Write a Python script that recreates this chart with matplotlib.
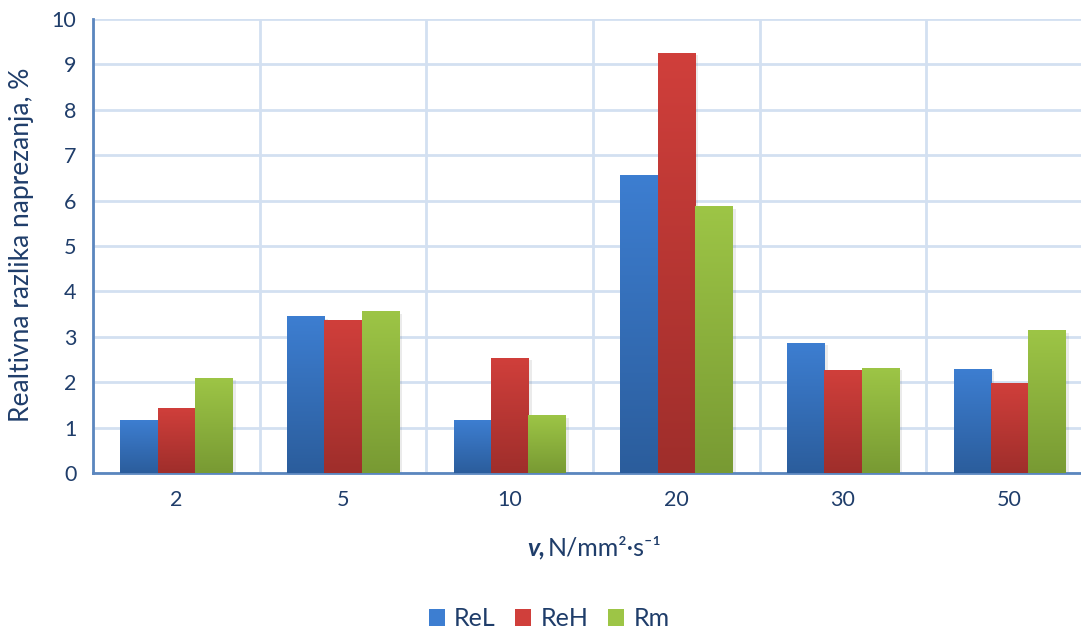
import matplotlib
matplotlib.use("Agg")
import matplotlib.pyplot as plt
import numpy as np
from matplotlib.colors import LinearSegmentedColormap
from matplotlib.patches import Rectangle

categories = ["2", "5", "10", "20", "30", "50"]
series_names = ["ReL", "ReH", "Rm"]
rel = [1.15, 3.44, 1.15, 6.56, 2.86, 2.29]
reh = [1.41, 3.37, 2.53, 9.25, 2.25, 1.98]
rm = [2.09, 3.55, 1.26, 5.86, 2.31, 3.13]
yticks = [0, 1, 2, 3, 4, 5, 6, 7, 8, 9, 10]

top_colors = ["#3D7ED1", "#D03F3B", "#9DC546"]
bot_colors = ["#2B5D9C", "#9F2E2B", "#789A33"]
text_color = "#1F3D6A"
axis_color = "#5B86BE"
grid_color = "#D3E0F1"

plt.rcParams['font.family'] = ['Lato', 'DejaVu Sans']

fig = plt.figure(figsize=(10.81, 6.31), dpi=100)
ax = fig.add_axes([93/1081, (631-473)/631, 1000/1081, 454/631])

n = len(categories)
x = np.arange(n)
bw = 0.224
data = [rel, reh, rm]
for i, vals in enumerate(data):
    cmap = LinearSegmentedColormap.from_list(f"g{i}", [bot_colors[i], top_colors[i]])
    grad = np.linspace(0, 1, 256).reshape(-1, 1)
    for j, v in enumerate(vals):
        x0 = x[j] + (i - 1) * bw - bw / 2
        sh = Rectangle((x0 + 0.02, 0), bw, v - 0.05, facecolor="#000000", alpha=0.08,
                       edgecolor="none", zorder=2)
        ax.add_patch(sh)
        ax.imshow(grad, cmap=cmap, origin="lower", aspect="auto",
                  extent=(x0, x0 + bw, 0, v), zorder=3, interpolation="bilinear")

ax.set_xlim(-0.5, n - 0.5)
ax.set_ylim(0, 10)
ax.set_xticks(x)
ax.set_xticklabels(categories)
ax.set_yticks(yticks)
ax.set_xticks(np.arange(n + 1) - 0.5, minor=True)
ax.yaxis.grid(True, color=grid_color, linewidth=2, zorder=0)
ax.xaxis.grid(True, which="minor", color=grid_color, linewidth=2, zorder=0)
ax.xaxis.grid(False, which="major")
ax.set_axisbelow(True)
ax.tick_params(axis="both", which="both", length=0, labelsize=15.5, labelcolor=text_color)
ax.tick_params(axis="x", pad=12)
ax.tick_params(axis="y", pad=12)
for s in ["top", "right"]:
    ax.spines[s].set_visible(False)
for s in ["left", "bottom"]:
    ax.spines[s].set_color(axis_color)
    ax.spines[s].set_linewidth(2)

fig.text(22/1081, 1 - 245/631, "Realtivna razlika naprezanja, %", rotation=90,
         ha="center", va="center", fontsize=19, color=text_color)

fig.text(545/1081, 1 - 548/631, "v,", ha="right", va="center", fontsize=18,
         color=text_color, fontweight="bold", fontstyle="italic")
fig.text(548/1081, 1 - 548/631, "N/mm²·s⁻¹", ha="left", va="center",
         fontsize=18, color=text_color)

handles = [Rectangle((0, 0), 1, 1, facecolor=c) for c in top_colors]
fig.legend(handles, series_names, loc="center", bbox_to_anchor=(549/1081, 1 - 619/631),
           ncol=3, frameon=False, fontsize=18, handlelength=0.64, handleheight=0.64,
           columnspacing=0.8, handletextpad=0.36, labelcolor=text_color)

fig.savefig("out.png", dpi=100)
